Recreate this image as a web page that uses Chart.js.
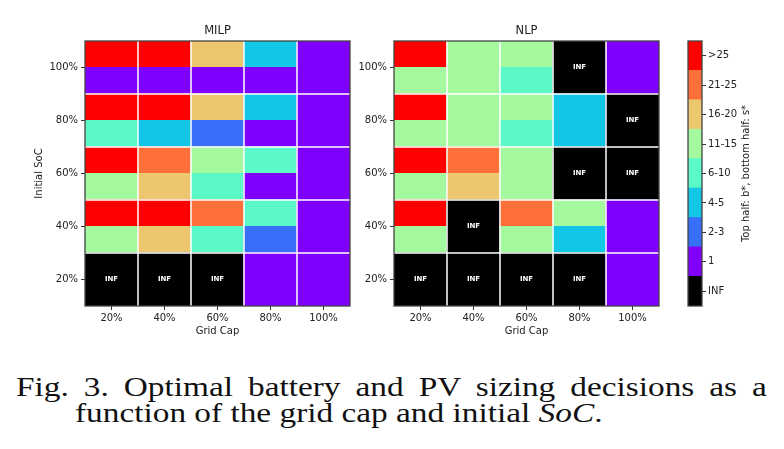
<!DOCTYPE html>
<html>
<head>
<meta charset="utf-8">
<script src="https://cdn.jsdelivr.net/npm/chart.js@4.4.1/dist/chart.umd.min.js"></script>
<style>
html,body{margin:0;padding:0;background:#fff;width:784px;height:449px;overflow:hidden;position:relative;}
canvas{position:absolute;top:0;}
#milp{left:0;}
#nlp{left:340px;}
#cbar{left:660px;}
.cap{position:absolute;font-family:"Liberation Serif",serif;font-size:28px;line-height:28px;color:#111;white-space:nowrap;transform:scaleX(1.19);transform-origin:0 0;}
#cap1{left:16px;top:373px;width:631px;text-align:justify;text-align-last:justify;}
#cap2{left:75px;top:399px;}
</style>
</head>
<body>
<canvas id="milp" width="360" height="345"></canvas>
<canvas id="nlp" width="330" height="345"></canvas>
<canvas id="cbar" width="124" height="345"></canvas>
<div class="cap" id="cap1">Fig. 3. Optimal battery and PV sizing decisions as a</div>
<div class="cap" id="cap2">function of the grid cap and initial <i>SoC</i>.</div>
<script>
// ---------- data ----------
const gridCaps = ['20%', '40%', '60%', '80%', '100%'];
const socLevels = ['100%', '80%', '60%', '40%', '20%']; // rows, top to bottom
const bins = ['INF', '1', '2-3', '4-5', '6-10', '11-15', '16-20', '21-25', '>25'];
const binColors = ['#000000', '#8000ff', '#376ff9', '#12c7e6', '#5bf9c7', '#a4f99f', '#edc76f', '#ff6f39', '#ff0000'];

// MILP: top half b*, bottom half s*  (rows 100%..20%, columns 20%..100%)
const milpB = [
  ['>25', '>25', '16-20', '4-5', '1'],
  ['>25', '>25', '16-20', '4-5', '1'],
  ['>25', '21-25', '11-15', '6-10', '1'],
  ['>25', '>25', '21-25', '6-10', '1'],
  ['INF', 'INF', 'INF', '1', '1']
];
const milpS = [
  ['1', '1', '1', '1', '1'],
  ['6-10', '4-5', '2-3', '1', '1'],
  ['11-15', '16-20', '6-10', '1', '1'],
  ['11-15', '16-20', '6-10', '2-3', '1'],
  ['INF', 'INF', 'INF', '1', '1']
];
// NLP
const nlpB = [
  ['>25', '11-15', '11-15', 'INF', '1'],
  ['>25', '11-15', '11-15', '4-5', 'INF'],
  ['>25', '21-25', '11-15', 'INF', 'INF'],
  ['>25', 'INF', '21-25', '11-15', '1'],
  ['INF', 'INF', 'INF', 'INF', '1']
];
const nlpS = [
  ['11-15', '11-15', '6-10', 'INF', '1'],
  ['11-15', '11-15', '6-10', '4-5', 'INF'],
  ['11-15', '16-20', '11-15', 'INF', 'INF'],
  ['11-15', 'INF', '11-15', '4-5', '1'],
  ['INF', 'INF', 'INF', 'INF', '1']
];

// ---------- helpers ----------
Chart.defaults.font.family = '"DejaVu Sans", sans-serif';
Chart.defaults.font.size = 10;
Chart.defaults.color = '#222';
const FRAME = '#444';
const colorOf = (b) => binColors[bins.indexOf(b)];
const nRows = socLevels.length;

function buildDatasets(B, S) {
  const ds = [];
  for (let k = 0; k < nRows; k++) {          // k = row index from bottom
    const r = nRows - 1 - k;
    ds.push({ data: gridCaps.map(() => [k, k + 0.5]), backgroundColor: gridCaps.map((_, c) => colorOf(S[r][c])) });
    ds.push({ data: gridCaps.map(() => [k + 0.5, k + 1]), backgroundColor: gridCaps.map((_, c) => colorOf(B[r][c])) });
  }
  return ds;
}

function heatPlugin(title, B, S) {
  return {
    id: 'heat_' + title,
    afterDatasetsDraw(chart) {
      const { ctx, chartArea: a, scales: { x, y } } = chart;
      ctx.save();
      ctx.strokeStyle = '#ffffff';
      ctx.lineWidth = 1.5;
      ctx.beginPath();
      for (let i = 0; i < gridCaps.length - 1; i++) {
        const px = x.getPixelForValue(i + 0.5);
        ctx.moveTo(px, a.top); ctx.lineTo(px, a.bottom);
      }
      for (let k = 1; k < nRows; k++) {
        const py = y.getPixelForValue(k);
        ctx.moveTo(a.left, py); ctx.lineTo(a.right, py);
      }
      ctx.stroke();
      // INF labels
      ctx.fillStyle = '#ffffff';
      ctx.font = 'bold 7px "DejaVu Sans", sans-serif';
      ctx.textAlign = 'center';
      ctx.textBaseline = 'middle';
      for (let r = 0; r < nRows; r++) {
        for (let c = 0; c < gridCaps.length; c++) {
          if (B[r][c] === 'INF' && S[r][c] === 'INF') {
            const k = nRows - 1 - r;
            ctx.fillText('INF', x.getPixelForValue(c), y.getPixelForValue(k + 0.5));
          }
        }
      }
      ctx.restore();
    },
    afterDraw(chart) {
      const { ctx, chartArea: a } = chart;
      ctx.save();
      ctx.strokeStyle = FRAME;
      ctx.lineWidth = 1.3;
      ctx.strokeRect(a.left, a.top, a.right - a.left, a.bottom - a.top);
      ctx.fillStyle = '#222';
      ctx.font = '11.5px "DejaVu Sans", sans-serif';
      ctx.textAlign = 'center';
      ctx.textBaseline = 'alphabetic';
      ctx.fillText(title, (a.left + a.right) / 2, a.top - 7);
      ctx.restore();
    }
  };
}

function makeHeat(id, title, B, S, yAxisWidth, padRight, showYTitle) {
  return new Chart(document.getElementById(id), {
    type: 'bar',
    data: { labels: gridCaps, datasets: buildDatasets(B, S) },
    options: {
      responsive: false,
      animation: false,
      layout: { padding: { top: 41, right: padRight, bottom: 0, left: 0 } },
      datasets: { bar: { grouped: false, barPercentage: 1, categoryPercentage: 1, borderWidth: 0, inflateAmount: 0.5 } },
      plugins: { legend: { display: false }, tooltip: { enabled: false } },
      scales: {
        x: {
          type: 'category',
          afterFit: (s) => { s.height = 39; },
          grid: { display: true, drawOnChartArea: false, offset: false, tickLength: 4, tickColor: '#333', tickWidth: 1 },
          border: { display: false },
          ticks: { padding: 2, color: '#222' },
          title: { display: true, text: 'Grid Cap', color: '#222', padding: { top: 0, bottom: 8 } }
        },
        y: {
          type: 'linear', min: 0, max: nRows,
          afterFit: (s) => { s.width = yAxisWidth; },
          afterBuildTicks: (s) => { s.ticks = socLevels.map((_, k) => ({ value: k + 0.5 })); },
          grid: { display: true, drawOnChartArea: false, tickLength: 4, tickColor: '#333', tickWidth: 1 },
          border: { display: false },
          ticks: { padding: 3, color: '#222', callback: (v) => socLevels[nRows - 1 - Math.round(v - 0.5)] },
          title: { display: showYTitle, text: 'Initial SoC', color: '#222', padding: { top: 33, bottom: 0 } }
        }
      }
    },
    plugins: [heatPlugin(title, B, S)]
  });
}

makeHeat('milp', 'MILP', milpB, milpS, 85, 10, true);
makeHeat('nlp', 'NLP', nlpB, nlpS, 54, 11, false);

// ---------- colorbar ----------
const cbarTitle = 'Top half: b*, bottom half: s*';
new Chart(document.getElementById('cbar'), {
  type: 'bar',
  data: {
    labels: [''],
    datasets: bins.map((b, i) => ({ data: [[i, i + 1]], backgroundColor: binColors[i] }))
  },
  options: {
    responsive: false,
    animation: false,
    layout: { padding: { top: 41, right: 0, bottom: 39, left: 28 } },
    datasets: { bar: { grouped: false, barPercentage: 1, categoryPercentage: 1, borderWidth: 0, inflateAmount: 0.5 } },
    plugins: { legend: { display: false }, tooltip: { enabled: false } },
    scales: {
      x: { display: false },
      y: {
        position: 'right', type: 'linear', min: 0, max: bins.length,
        afterFit: (s) => { s.width = 82; },
        afterBuildTicks: (s) => { s.ticks = bins.map((_, i) => ({ value: i + 0.5 })); },
        grid: { display: true, drawOnChartArea: false, tickLength: 4, tickColor: '#333', tickWidth: 1 },
        border: { display: false },
        ticks: { padding: 2, color: '#222', callback: (v) => bins[Math.round(v - 0.5)] }
      }
    }
  },
  plugins: [{
    id: 'cbarFrame',
    afterDraw(chart) {
      const { ctx, chartArea: a } = chart;
      ctx.save();
      ctx.strokeStyle = FRAME;
      ctx.lineWidth = 1.3;
      ctx.strokeRect(a.left, a.top, a.right - a.left, a.bottom - a.top);
      ctx.translate(86, (a.top + a.bottom) / 2);
      ctx.rotate(-Math.PI / 2);
      ctx.fillStyle = '#222';
      ctx.font = '10px "DejaVu Sans", sans-serif';
      ctx.textAlign = 'center';
      ctx.textBaseline = 'middle';
      ctx.fillText(cbarTitle, 0, 0);
      ctx.restore();
    }
  }]
});
</script>
</body>
</html>
